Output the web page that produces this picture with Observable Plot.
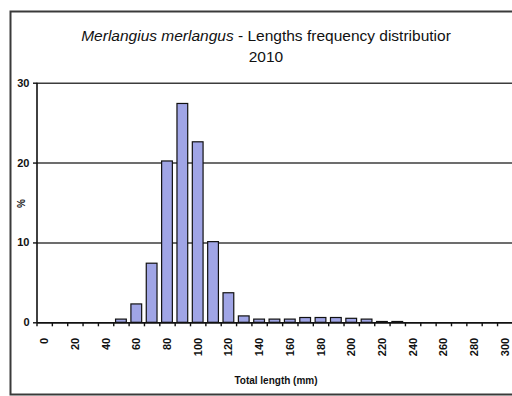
<!DOCTYPE html>
<html><head><meta charset="utf-8">
<script src="https://cdn.jsdelivr.net/npm/d3@7"></script>
<script src="https://cdn.jsdelivr.net/npm/@observablehq/plot@0.6"></script>
<style>
html,body{margin:0;background:#fff;overflow:hidden;}
#wrap{position:relative;width:512px;height:396px;overflow:hidden;font-family:"Liberation Sans",Arial,sans-serif;color:#111;}
#title{position:absolute;left:0;width:492px;padding-left:20px;top:25px;text-align:center;font-size:15.5px;line-height:21px;white-space:nowrap;}
#chart{position:absolute;left:0;top:0;}
#ylab{position:absolute;left:17px;top:198px;font-size:10px;font-weight:bold;transform:rotate(-90deg);}
#xlab{position:absolute;left:176px;width:200px;top:375px;text-align:center;font-size:10px;font-weight:bold;}
</style></head>
<body>
<div id="wrap">
  <div id="chart"></div>
  <div id="title"><i>Merlangius merlangus</i> - Lengths frequency distributior<br>2010</div>
  <div id="ylab">%</div>
  <div id="xlab">Total length (mm)</div>
</div>
<script>
const lengths = [0,10,20,30,40,50,60,70,80,90,100,110,120,130,140,150,160,170,180,190,200,210,220,230,240,250,260,270,280,290,300];
const percent = [0,0,0,0,0,0.4,2.3,7.4,20.2,27.4,22.6,10.1,3.7,0.8,0.4,0.4,0.4,0.6,0.6,0.6,0.5,0.4,0.1,0.1,0,0,0,0,0,0,0];
const xTickLabels = [0,20,40,60,80,100,120,140,160,180,200,220,240,260,280,300];
const yTicks = [0,10,20,30];

const data = lengths.map((l, i) => ({length: l, pct: percent[i]}));
const x0 = 36.5, x1 = 512.4;
const step = (x1 - x0) / lengths.length;

const chart = Plot.plot({
  width: 512, height: 396,
  marginLeft: 37, marginRight: 0, marginTop: 82.7, marginBottom: 73.7,
  style: {fontFamily: "Liberation Sans, Arial, sans-serif", background: "transparent", color: "#111", overflow: "visible"},
  x: {type: "band", domain: lengths, range: [x0, x1], round: false, paddingInner: 0.3, paddingOuter: 0.15, axis: null},
  y: {domain: [0, 30], axis: null},
  marks: [
    Plot.frame({stroke: "#3a3a3a", strokeWidth: 2, insetLeft: -27, insetTop: -71.7, insetBottom: -71.7, insetRight: -12}),
    Plot.ruleY(yTicks.filter(v => v > 0), {stroke: "#3c3c3c", strokeWidth: 1.6}),
    Plot.barY(data, {x: "length", y: "pct", fill: "#a0a5e6", stroke: "#111", strokeWidth: 1.2}),
    Plot.axisY({ticks: yTicks, tickSize: 4, tickPadding: 4, fontSize: 11, fontWeight: "bold", label: null, strokeWidth: 1.4}),
    Plot.ruleX([lengths[0]], {y1: 0, y2: 30, dx: -step/2, stroke: "#111", strokeWidth: 1.6}),
    Plot.ruleY([0], {stroke: "#111", strokeWidth: 1.8}),
    Plot.axisX({ticks: lengths, tickSize: 4, tickFormat: () => "", dx: -step/2, label: null, stroke: "#111", strokeWidth: 1.4}),
    Plot.axisX({ticks: xTickLabels, tickSize: 0, tickPadding: 15, tickRotate: -90, fontSize: 11, fontWeight: "bold", label: null})
  ]
});
document.getElementById("chart").appendChild(chart);
</script>
</body></html>
